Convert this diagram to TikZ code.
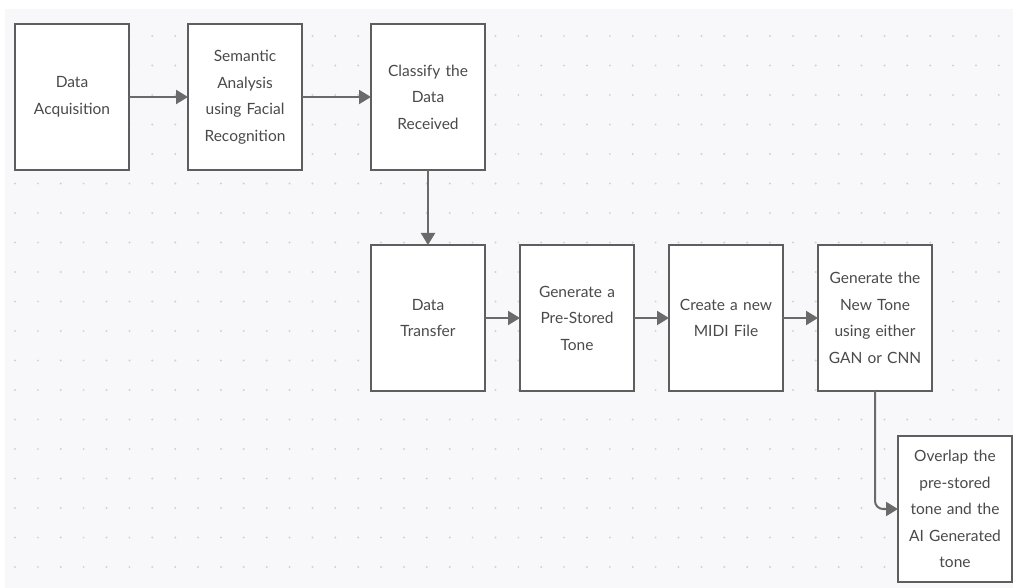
\documentclass[tikz,border=0pt]{standalone}
\usepackage{fontspec}
\setmainfont{Lato}
\usepackage{xcolor}
\definecolor{canvas}{HTML}{F8F8FA}
\definecolor{griddot}{HTML}{D2D2D6}
\definecolor{boxline}{HTML}{5E5E5E}
\definecolor{flowline}{HTML}{6A6A6A}
\definecolor{textgray}{HTML}{4A4A4A}
\usepackage{tikz}
\usetikzlibrary{positioning,arrows.meta}
\newcommand{\stepnode}[3]{
\node (#1) [#2]{#3};}
\tikzstyle{stepbox}=[rectangle, draw=boxline, line width=2pt, fill=white, minimum width=114pt,
        minimum height=146pt, inner sep=0pt, outer sep=0pt, text width=106pt, align=center,
        text=textgray, font=\fontsize{15.5}{26.5}\selectfont]
\tikzstyle{line}=[line width=2pt, draw=flowline, -{Triangle[length=12pt,width=14pt]}]

\begin{document}
\begin{tikzpicture}[x=1pt, y=1pt]

\useasboundingbox (0,0) rectangle (1013,-588);
\fill[canvas] (5,-9) rectangle (1013,-588);
% dotted grid
\foreach \i in {0,...,43}
  \foreach \j in {0,...,18}
    \fill[griddot] (15+22.88*\i, -36-29.5*\j) circle (1.1);

\stepnode{Acquisition}{stepbox, anchor=north west, at={(15,-24)}}{Data\\Acquisition}
\stepnode{Semantic}{stepbox, right=59pt of Acquisition}{Semantic\\Analysis\\using Facial\\Recognition}
\stepnode{Classify}{stepbox, right=69pt of Semantic}{Classify the\\Data\\Received}
\stepnode{Transfer}{stepbox, below=75pt of Classify}{Data\\Transfer}
\stepnode{PreStored}{stepbox, right=35pt of Transfer}{Generate a\\Pre-Stored\\Tone}
\stepnode{Midi}{stepbox, right=35pt of PreStored}{Create a new\\MIDI File}
\stepnode{NewTone}{stepbox, right=35pt of Midi}{Generate the\\New Tone\\using either\\GAN or CNN}
\stepnode{Overlap}{stepbox, below=45pt of NewTone, xshift=80pt}{Overlap the\\pre-stored\\tone and the\\AI Generated\\tone}

% draw lines
\draw[line] (Acquisition.east) -- (Semantic.west);
\draw[line] (Semantic.east) -- (Classify.west);
\draw[line] (Classify.south) -- (Transfer.north);
\draw[line] (Transfer.east) -- (PreStored.west);
\draw[line] (PreStored.east) -- (Midi.west);
\draw[line] (Midi.east) -- (NewTone.west);
\draw[line, rounded corners=8pt] (NewTone.south) |- (Overlap.west);

\end{tikzpicture}
\end{document}
